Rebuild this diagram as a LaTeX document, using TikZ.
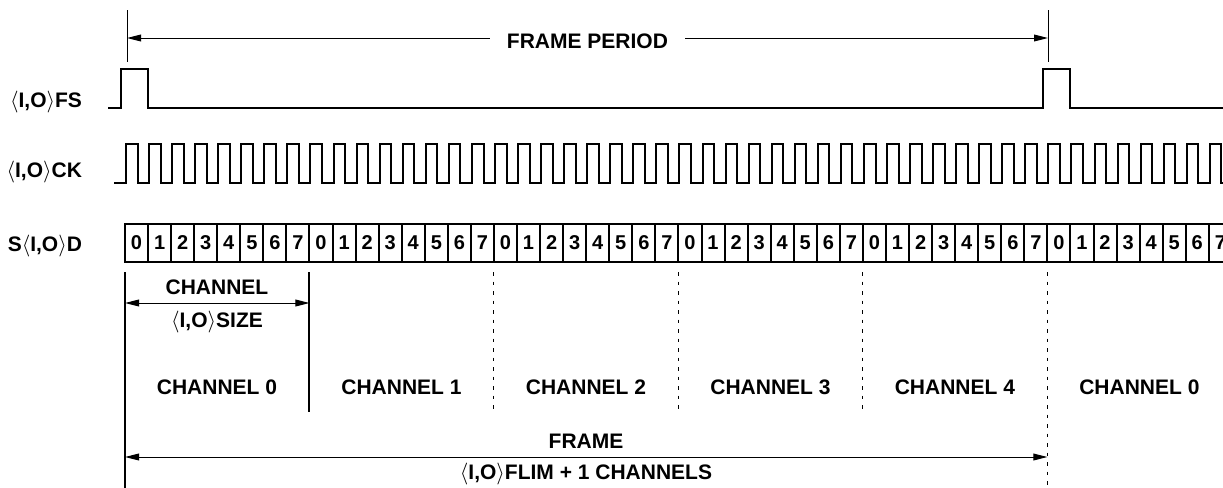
\documentclass[tikz,border=0pt]{standalone}
\usepackage{fontspec}
\setmainfont{Liberation Sans}
\usepackage{tikz}
\usetikzlibrary{arrows.meta,positioning,calc}
\newcommand{\IOsig}{$\langle$I,O$\rangle$}

\begin{document}
\begin{tikzpicture}[
  x=0.5pt, y=-0.5pt,
  every node/.style={font=\fontsize{10.5}{12}\selectfont\bfseries, inner sep=0pt, outer sep=0pt},
  sig/.style={line width=1pt, line join=miter},
  tick/.style={line width=0.5pt},
  sep/.style={line width=1pt},
  dsep/.style={line width=0.5pt, dash pattern=on 1.75pt off 3pt},
  cell/.style={draw, line width=1pt, minimum width=11.53pt, minimum height=19pt, anchor=north west, font=\fontsize{10}{12}\selectfont\bfseries},
  arr/.style={{Triangle[length=7pt,width=3.4pt]}-{Triangle[length=7pt,width=3.4pt]}, line width=0.5pt},
]
  \useasboundingbox (0,0) rectangle (1223,488);

  % Signal names
  \node[anchor=base east] (lfs) at (82,107) {\IOsig FS};
  \node[anchor=base east] (lck) at (82,177) {\IOsig CK};
  \node[anchor=base east] (lsd) at (82,251) {S\IOsig D};

  % Frame period
  \coordinate (p0) at (127,38);
  \coordinate (p1) at (1048,38);
  \draw[tick] (p0 |- 0,10) -- (p0 |- 0,62);
  \draw[tick] (p1 |- 0,10) -- (p1 |- 0,62);
  \draw[arr] (p0) -- node[fill=white, inner xsep=8.5pt, inner ysep=2pt, yshift=-1.5pt] (fp) {FRAME PERIOD} (p1);

  \begin{scope}
    \clip (0,0) rectangle (1223,488);

    % FS
    \draw[sig] (108,108) -- (121,108) -- (121,69) -- (148,69) -- (148,108)
      -- (1043,108) -- (1043,69) -- (1070,69) -- (1070,108) -- (1223,108);

    % CK
    \draw[sig] (114,183) -- (126,183)
      foreach \k in {0,...,47} { -- ++(0,-39) -- ++(11.6,0) -- ++(0,39) -- ++(11.46,0) };

    % Data bits
    \foreach \k in {0,...,47} {
      \pgfmathtruncatemacro{\bit}{mod(\k,8)}
      \node[cell] (d\k) at ({125+\k*23.06},224) {\bit};
    }
  \end{scope}

  % Channel boundaries
  \draw[sep] ([yshift=-5pt]d0.south west) -- ++(0,226);
  \draw[sep] ([yshift=-5pt]d8.south west) -- ++(0,140);
  \draw[dsep] ([yshift=-5pt]d16.south west) -- ++(0,140);
  \draw[dsep] ([yshift=-5pt]d24.south west) -- ++(0,140);
  \draw[dsep] ([yshift=-5pt]d32.south west) -- ++(0,140);
  \draw[dsep] ([yshift=-5pt]d40.south west) -- ++(0,226);

  % Channel size
  \coordinate (cs0) at (d0.south west |- 0,303);
  \coordinate (cs1) at (d8.south west |- 0,303);
  \draw[arr] (cs0) -- (cs1);
  \node[anchor=base] (csa) at (217,294) {CHANNEL};
  \node[anchor=base] (csb) at (217,327) {\IOsig SIZE};

  % Channel labels
  \foreach \c/\n in {0/0,1/1,2/2,3/3,4/4,5/0}
    \node[anchor=base] (ch\c) at ({217+\c*184.48},394) {CHANNEL \n};

  % Frame
  \coordinate (f0) at (d0.south west |- 0,457);
  \coordinate (f1) at (d40.south west |- 0,457);
  \draw[arr] (f0) -- (f1);
  \node[anchor=base] (fra) at (586,448) {FRAME};
  \node[anchor=base] (frb) at (586,479) {\IOsig FLIM + 1 CHANNELS};
\end{tikzpicture}
\end{document}
